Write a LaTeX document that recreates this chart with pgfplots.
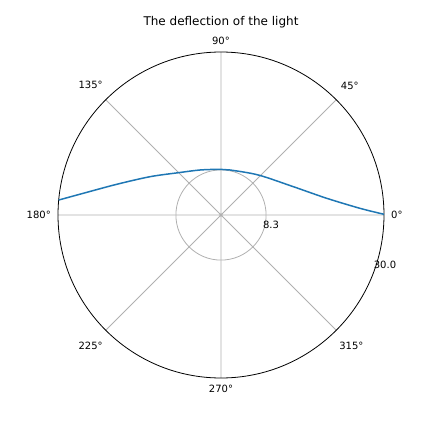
\documentclass[border=0pt]{standalone}
\usepackage{fontspec}
\setmainfont{DejaVu Sans}
\usepackage{pgfplots}
\pgfplotsset{compat=1.18}
\usepgfplotslibrary{polar}
\definecolor{mplblue}{HTML}{1F77B4}
\definecolor{gridgray}{HTML}{B0B0B0}
\begin{document}
\begin{tikzpicture}
\begin{polaraxis}[
  width=326pt, height=326pt, scale only axis,
  ymin=0, ymax=30,
  xtick={0,45,...,315},
  xticklabels={0°,45°,90°,135°,180°,225°,270°,315°},
  ytick={8.3}, yticklabels={},
  grid=major,
  major grid style={gridgray, line width=0.8pt},
  x axis line style={black, line width=0.8pt},
  y axis line style={draw=none},
  major tick length=0pt,
  tick label style={font=\fontsize{10}{12}\selectfont},
  xticklabel style={inner sep=7pt},
  clip=false,
]
% light path (angle in degrees, radius)
\addplot[mplblue, line width=1.5pt, smooth] coordinates {
  (0.25,30.0) (2.76,25.6) (8.98,19.7) (21.37,14.3) (47.0,10.07)
  (78.7,8.45) (91.25,8.41) (115.0,9.14) (135.27,11.06) (151.65,14.85)
  (163.6,20.01) (171.04,25.66) (174.73,30.0)
};
\node[font=\fontsize{10}{12}\selectfont] at (axis cs:-10.76,9.37) {8.3};
\node[font=\fontsize{10}{12}\selectfont] at (axis cs:-16.96,31.56) {30.0};
\coordinate (c) at (axis cs:0,0);
\end{polaraxis}
\node[font=\fontsize{12}{14}\selectfont] at ([yshift=193pt]c) {The deflection of the light};
\path (c) ++(-221pt,-217pt) rectangle ++(432pt,432pt);
\end{tikzpicture}
\end{document}
